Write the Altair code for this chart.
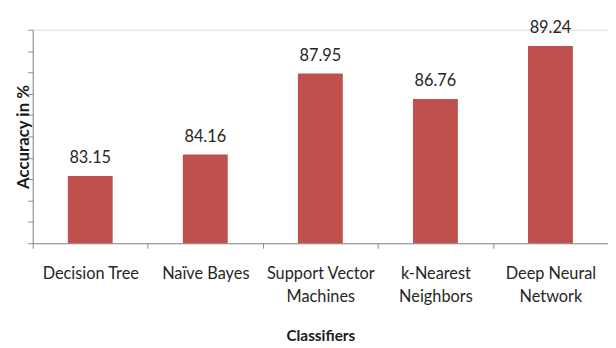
import altair as alt
import pandas as pd

classifiers = ["Decision Tree", "Naïve Bayes", "Support Vector Machines",
               "k-Nearest Neighbors", "Deep Neural Network"]
accuracy = [83.15, 84.16, 87.95, 86.76, 89.24]
label_lines = [["Decision Tree"], ["Naïve Bayes"], ["Support Vector", "Machines"],
               ["k-Nearest", "Neighbors"], ["Deep Neural", "Network"]]
y_min, y_max = 80, 90
y_ticks = [80, 81, 82, 83, 84, 85, 86, 87, 88, 89, 90]

df = pd.DataFrame({"Classifier": classifiers, "Accuracy": accuracy})

# build label expression mapping category -> list of lines
expr = "''"
for name, lines in reversed(list(zip(classifiers, label_lines))):
    arr = "[" + ",".join("'" + l + "'" for l in lines) + "]"
    expr = f"datum.label == '{name}' ? {arr} : ({expr})"

FONT = "Lato"
BAR = "#C0504D"
AXIS = "#8C8C8C"

x = alt.X("Classifier:N", sort=classifiers,
          scale=alt.Scale(paddingInner=0, paddingOuter=0),
          axis=alt.Axis(title="Classifiers", labelAngle=0, tickBand="extent",
                        labelExpr=expr, labelLineHeight=23, labelFontSize=16.5,
                        labelFont=FONT, labelColor="#262626", labelPadding=18,
                        labelBaseline="top",
                        tickSize=5, tickColor=AXIS, domainColor=AXIS,
                        titleFont=FONT, titleFontSize=15.5, titleFontWeight="bold",
                        titleColor="#1a1a1a", titleY=93, titleBaseline="middle"))
y = alt.Y("Accuracy:Q", scale=alt.Scale(domain=[y_min, y_max], zero=False, nice=False),
          axis=alt.Axis(title="Accuracy  in %", labels=False,
                        values=y_ticks, tickCount=len(y_ticks), grid=False,
                        tickSize=5, tickColor=AXIS, domainColor=AXIS,
                        titleFont=FONT, titleFontSize=17, titleFontWeight="bold",
                        titleColor="#1a1a1a", titleAngle=-90, titleX=-9, titleY=108,
                        titleAlign="center", titleBaseline="middle"))

bars = alt.Chart(df).mark_bar(color=BAR, width=alt.RelativeBandSize(0.39)).encode(
    x=x, y=y, y2=alt.datum(y_min))
text = alt.Chart(df).mark_text(dy=-13, baseline="alphabetic", align="center",
                               font=FONT, fontSize=16.5, color="#262626").encode(
    x=x, y=y,
    text=alt.Text("Accuracy:Q", format=".2f"))

chart = (bars + text).properties(
    width=582, height=216,
    autosize=alt.AutoSizeParams(type="none"),
    padding={"left": 25, "top": 20, "right": 0, "bottom": 102},
).configure_view(stroke=None).configure(background="white")

chart.save("out.html", embed_options={"renderer": "svg", "actions": False})
